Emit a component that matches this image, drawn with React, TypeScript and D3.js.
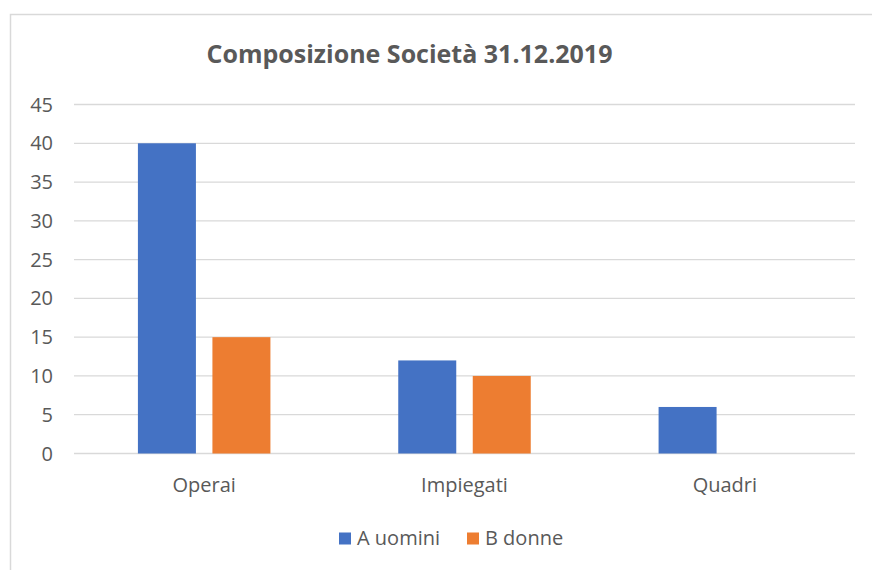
import React from "react";
import * as d3 from "d3";

const categories = ["Operai", "Impiegati", "Quadri"];
const seriesNames = ["A uomini", "B donne"];
const uomini = [40, 12, 6];
const donne = [15, 10, 0];
const yTicks = [0, 5, 10, 15, 20, 25, 30, 35, 40, 45];
const title = "Composizione Società 31.12.2019";
const colors = ["#4472C4", "#ED7D31"];

export default function App() {
  const W = 872, H = 570;
  const left = 74, right = 855, top = 104.5, bottom = 453.5;
  const x = d3.scaleBand().domain(categories).range([left, right]);
  const y = d3.scaleLinear().domain([0, 45]).range([bottom, top]);
  const barW = 58, gap = 16.5;
  const series = [uomini, donne];
  const font = "'Open Sans', sans-serif";
  return (
    <svg width={W} height={H} style={{ position: "absolute", left: 0, top: 0, background: "#fff" }}>
      <rect x={10.5} y={14.5} width={W + 10} height={H + 10} fill="#fff" stroke="#d9d9d9" strokeWidth={1.5} />
      <text x={409.5} y={63} textAnchor="middle" fontFamily={font} fontWeight="bold" fontSize={25} fill="#595959">{title}</text>
      {yTicks.map(t => (
        <g key={t}>
          <line x1={left} x2={right} y1={y(t)} y2={y(t)} stroke="#d9d9d9" strokeWidth={1.3} />
          <text x={53} y={y(t)} dy="0.35em" textAnchor="end" fontFamily={font} fontSize={20} fill="#595959">{t}</text>
        </g>
      ))}
      {categories.map((c, i) => {
        const cx = x(c)! + x.bandwidth() / 2;
        const start = cx - (2 * barW + gap) / 2;
        return (
          <g key={c}>
            {series.map((s, j) => s[i] > 0 ? (
              <rect key={j} x={start + j * (barW + gap)} y={y(s[i])} width={barW} height={y(0) - y(s[i])} fill={colors[j]} />
            ) : null)}
            <text x={cx} y={492} textAnchor="middle" fontFamily={font} fontSize={20} fill="#595959">{c}</text>
          </g>
        );
      })}
      {seriesNames.map((n, j) => {
        const lx = [339, 467][j];
        return (
          <g key={n}>
            <rect x={lx} y={532.5} width={12} height={12} fill={colors[j]} />
            <text x={lx + 18} y={545} fontFamily={font} fontSize={20} fill="#595959">{n}</text>
          </g>
        );
      })}
    </svg>
  );
}
